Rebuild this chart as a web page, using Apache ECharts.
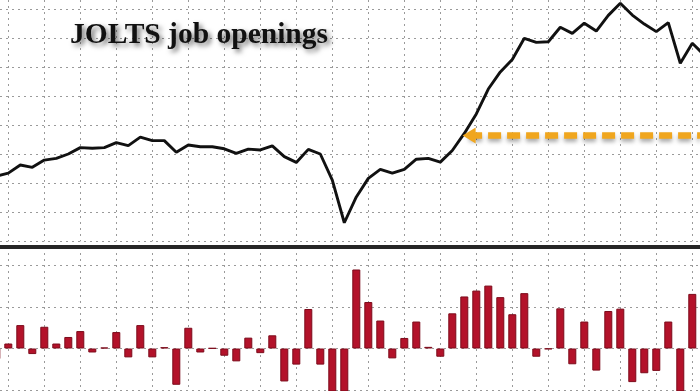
<!DOCTYPE html>
<html>
<head>
<meta charset="utf-8">
<script src="https://cdn.jsdelivr.net/npm/echarts@6/dist/echarts.min.js"></script>
<style>
html,body{margin:0;padding:0;background:#ffffff;}
#c{width:700px;height:391px;}
</style>
</head>
<body>
<div id="c"></div>
<script>
// Monthly categories (first and last are only partly visible at the edges)
const months = [
  '2017-11','2017-12',
  '2018-01','2018-02','2018-03','2018-04','2018-05','2018-06','2018-07','2018-08','2018-09','2018-10','2018-11','2018-12',
  '2019-01','2019-02','2019-03','2019-04','2019-05','2019-06','2019-07','2019-08','2019-09','2019-10','2019-11','2019-12',
  '2020-01','2020-02','2020-03','2020-04','2020-05','2020-06','2020-07','2020-08','2020-09','2020-10','2020-11','2020-12',
  '2021-01','2021-02','2021-03','2021-04','2021-05','2021-06','2021-07','2021-08','2021-09','2021-10','2021-11','2021-12',
  '2022-01','2022-02','2022-03','2022-04','2022-05','2022-06','2022-07','2022-08','2022-09','2022-10'
];

// JOLTS job openings level (millions)
const openings = [
  6.25, 6.35,
  6.63, 6.55, 6.80, 6.86, 7.01, 7.23, 7.21, 7.23, 7.40, 7.30, 7.59, 7.47,
  7.47, 7.07, 7.32, 7.26, 7.26, 7.19, 7.03, 7.18, 7.15, 7.29, 6.92, 6.72,
  7.17, 7.01, 6.11, 4.64, 5.53, 6.17, 6.48, 6.35, 6.48, 6.83, 6.86, 6.73,
  7.13, 7.72, 8.39, 9.25, 9.84, 10.27, 11.00, 10.86, 10.88, 11.38, 11.17, 11.52,
  11.25, 11.79, 12.21, 11.80, 11.49, 11.23, 11.54, 10.14, 10.83, 10.42
];

// Monthly change (thousands)
const monthlyChange = [
  -127, 60,
  282, -67, 262, 60, 139, 210, -48, 12, 198, -107, 282, -107,
  16, -437, 250, -48, 4, -87, -155, 131, -56, 159, -397, -194,
  476, -194, -950, -1470, 952, 560, 337, -119, 127, 325, 20, -99,
  424, 627, 698, 758, 619, 413, 667, -99, -8, 484, -190, 325,
  -266, 452, 480, -405, -298, -270, 325, -1100, 658, -300
];

// Pre-COVID peak level marked with the arrow (month positions counted from 2017-12)
const preCovidPeakLevel = 7.65;
const arrowFromMonth = 38.4;
const arrowToMonth = 57.64;

const titleText = 'JOLTS job openings';

// month position: 2017-12 = 0
const monthPos = months.map(function (_, k) { return k - 1; });
const lineData = monthPos.map(function (p, k) { return [p, openings[k]]; });
const barData = monthPos.map(function (p, k) { return [p, monthlyChange[k]]; });

const chart = echarts.init(document.getElementById('c'), null, {renderer: 'canvas'});

const gridDot = {color: '#9a9a9a', width: 1, type: [2, 4]};

function xAxisFor(gridIndex, extra) {
  return Object.assign({
    gridIndex: gridIndex, type: 'value', min: -0.692, max: 57.642,
    splitNumber: 19, minInterval: 3, maxInterval: 3,
    axisLine: {show: false}, axisTick: {show: false}, axisLabel: {show: false},
    splitLine: {show: true, showMinLine: false, showMaxLine: false, lineStyle: gridDot}
  }, extra || {});
}

const option = {
  animation: false,
  backgroundColor: '#ffffff',
  title: {
    text: titleText,
    left: 70,
    top: 20,
    padding: 0,
    textStyle: {
      fontFamily: 'Liberation Serif',
      fontWeight: 'bold',
      fontSize: 29.5,
      color: '#111111',
      textShadowColor: 'rgba(0,0,0,0.55)',
      textShadowBlur: 5,
      textShadowOffsetX: 3,
      textShadowOffsetY: 3
    }
  },
  grid: [
    {left: 0, right: 0, top: 0, bottom: 149.7},
    {left: 0, right: 0, top: 247, bottom: 0}
  ],
  xAxis: [
    xAxisFor(0),
    xAxisFor(1, {
      position: 'top',
      axisLine: {show: true, onZero: false, lineStyle: {color: '#262626', width: 4}}
    })
  ],
  yAxis: [
    {
      gridIndex: 0, type: 'value', min: 4, max: 12.32, minInterval: 1, maxInterval: 1, splitNumber: 8,
      axisLine: {show: false}, axisTick: {show: false}, axisLabel: {show: false},
      splitLine: {show: true, showMaxLine: false, lineStyle: gridDot}
    },
    {
      gridIndex: 1, type: 'value', min: -512, max: 1223, minInterval: 500, maxInterval: 500, splitNumber: 4,
      axisLine: {show: false}, axisTick: {show: false}, axisLabel: {show: false},
      splitLine: {show: true, showMinLine: false, showMaxLine: false, lineStyle: gridDot}
    }
  ],
  series: [
    {
      type: 'line', xAxisIndex: 0, yAxisIndex: 0, data: lineData,
      symbol: 'none', z: 4,
      lineStyle: {color: '#111111', width: 2.9},
      markLine: {
        silent: true,
        symbol: ['triangle', 'none'],
        symbolSize: [16, 13],
        label: {show: false},
        lineStyle: {
          color: '#f0a61e', width: 6.5, type: [13, 6],
          shadowColor: 'rgba(0,0,0,0.35)', shadowBlur: 4, shadowOffsetY: 3
        },
        itemStyle: {color: '#f0a61e'},
        data: [[{coord: [arrowFromMonth, preCovidPeakLevel]}, {coord: [arrowToMonth, preCovidPeakLevel]}]]
      }
    },
    {
      type: 'bar', xAxisIndex: 1, yAxisIndex: 1, data: barData,
      barWidth: 8,
      itemStyle: {color: '#b3122a', borderColor: '#7c0b1b', borderWidth: 1}
    }
  ]
};

chart.setOption(option);
</script>
</body>
</html>
